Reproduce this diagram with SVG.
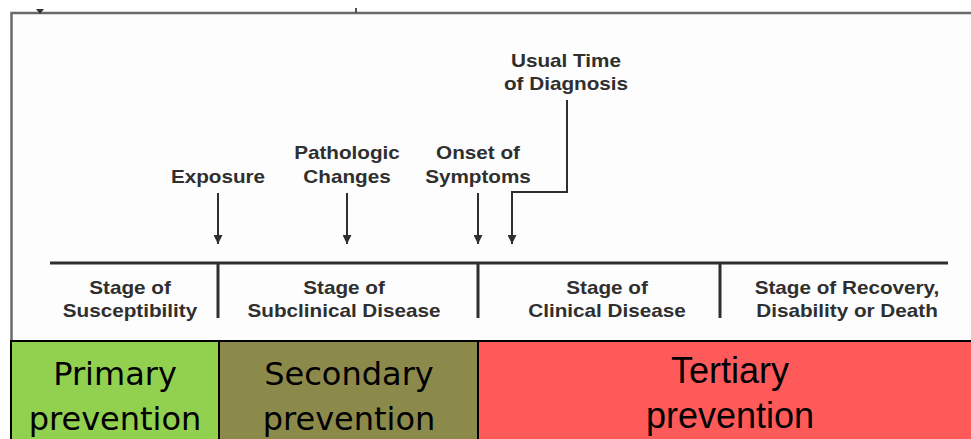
<svg xmlns="http://www.w3.org/2000/svg" width="971" height="439" viewBox="0 0 971 439">
<style>
.lbl{font-family:"Liberation Sans",Arial,sans-serif;font-weight:bold;font-size:18px;fill:#2f2f2f;text-anchor:middle}
.line{stroke:#2f2f2f;fill:none}
.prev{font-family:"DejaVu Sans",Verdana,sans-serif;font-size:32px;fill:#000;text-anchor:middle}
.prev2{font-family:"Liberation Sans",Arial,sans-serif;font-size:36px;fill:#000;text-anchor:middle}
.box{stroke:#000;stroke-width:2}
</style>
<defs>
<marker id="ah" viewBox="0 0 10 10" refX="10" refY="5" markerWidth="9" markerHeight="9" markerUnits="userSpaceOnUse" orient="auto">
<path d="M0,0 L10,5 L0,10 Z" fill="#2f2f2f"/>
</marker>
</defs>
<rect x="0" y="0" width="971" height="439" fill="#ffffff"/>
<rect x="11" y="13" width="960" height="328" fill="#fdfdfd"/>
<g id="frame">
<path d="M11.5,341 V13 H971" fill="none" stroke="#6a6a6a" stroke-width="2.5"/>
<path d="M36,9 L44,9 L40,14 Z" fill="#333"/>
<rect x="355" y="8" width="2" height="5" fill="#555"/>
</g>
<g id="timeline">
<path class="line" stroke-width="3" d="M50,263 H948"/>
<path class="line" stroke-width="3" d="M218,263 V318 M478,263 V318 M720,263 V318"/>
</g>
<g id="connectors">
<path class="line" stroke-width="2" d="M218,193 V244" marker-end="url(#ah)"/>
<path class="line" stroke-width="2" d="M347,193 V244" marker-end="url(#ah)"/>
<path class="line" stroke-width="2" d="M478,193 V244" marker-end="url(#ah)"/>
<path class="line" stroke-width="2" d="M567,100 V192 H512 V244" marker-end="url(#ah)"/>
</g>
<g id="exposure">
<text class="lbl" transform="translate(218,183) scale(1.15,1)">Exposure</text>
</g>
<g id="pathologic">
<text class="lbl" transform="translate(347,159) scale(1.15,1)">Pathologic</text>
<text class="lbl" transform="translate(347,183) scale(1.15,1)">Changes</text>
</g>
<g id="onset">
<text class="lbl" transform="translate(478,159) scale(1.15,1)">Onset of</text>
<text class="lbl" transform="translate(478,183) scale(1.15,1)">Symptoms</text>
</g>
<g id="diagnosis">
<text class="lbl" transform="translate(566,67) scale(1.15,1)">Usual Time</text>
<text class="lbl" transform="translate(566,90) scale(1.15,1)">of Diagnosis</text>
</g>
<g id="stage-susceptibility">
<text class="lbl" transform="translate(130,294) scale(1.15,1)">Stage of</text>
<text class="lbl" transform="translate(130,317) scale(1.15,1)">Susceptibility</text>
</g>
<g id="stage-subclinical">
<text class="lbl" transform="translate(344,294) scale(1.15,1)">Stage of</text>
<text class="lbl" transform="translate(344,317) scale(1.15,1)">Subclinical Disease</text>
</g>
<g id="stage-clinical">
<text class="lbl" transform="translate(607,294) scale(1.15,1)">Stage of</text>
<text class="lbl" transform="translate(607,317) scale(1.15,1)">Clinical Disease</text>
</g>
<g id="stage-recovery">
<text class="lbl" transform="translate(847,294) scale(1.15,1)">Stage of Recovery,</text>
<text class="lbl" transform="translate(847,317) scale(1.15,1)">Disability or Death</text>
</g>
<g id="primary">
<rect class="box" x="11" y="341" width="208" height="105" fill="#92d050"/>
<text class="prev" x="115" y="385">Primary</text>
<text class="prev" x="115" y="430">prevention</text>
</g>
<g id="secondary">
<rect class="box" x="219" y="341" width="259" height="105" fill="#8b8a4b"/>
<text class="prev" x="349" y="385">Secondary</text>
<text class="prev" x="349" y="430">prevention</text>
</g>
<g id="tertiary">
<rect class="box" x="478" y="341" width="500" height="105" fill="#ff5a5a"/>
<text class="prev2" x="730" y="383">Tertiary</text>
<text class="prev2" x="730" y="428">prevention</text>
</g>
</svg>
